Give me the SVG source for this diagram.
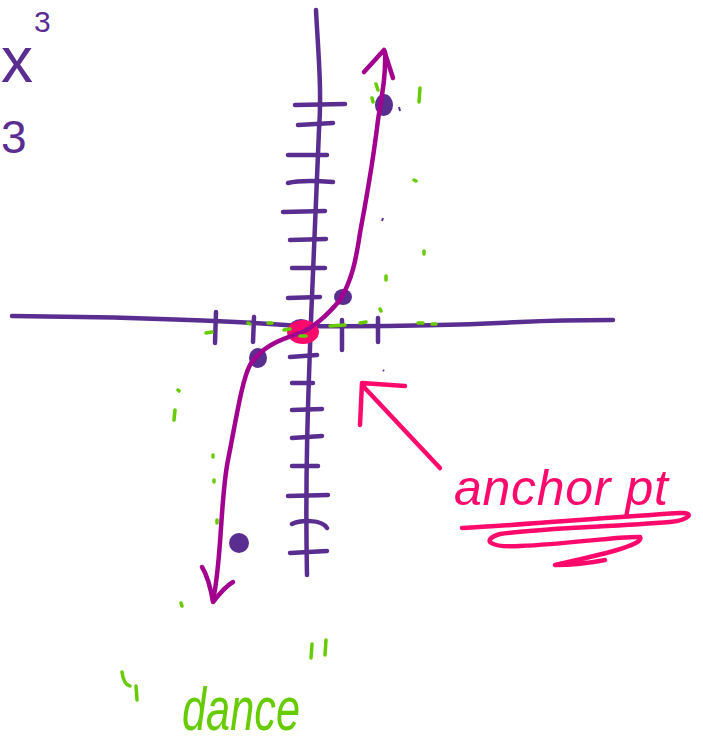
<svg xmlns="http://www.w3.org/2000/svg" width="703" height="748" viewBox="0 0 703 748">
<style>
.ax{fill:none;stroke:#5a2d91;stroke-width:4.5;stroke-linecap:round;stroke-linejoin:round}
.cv{fill:none;stroke:#a2008e;stroke-width:4.5;stroke-linecap:round;stroke-linejoin:round}
.pk{fill:none;stroke:#ff0a6c;stroke-width:4.5;stroke-linecap:round;stroke-linejoin:round}
.gr{fill:none;stroke:#66cc00;stroke-width:3.5;stroke-linecap:round}
.dot{fill:#5a2d91}
.hw{font-family:"Liberation Sans","DejaVu Sans",sans-serif}
</style>
<rect width="703" height="748" fill="#ffffff"/>
<g id="title">
<text x="1" y="82" class="hw" font-size="64" fill="#5a2d91">x</text>
<text x="34" y="32" class="hw" font-size="30" fill="#5a2d91">3</text>
<text x="1" y="153" class="hw" font-size="46" fill="#5a2d91">3</text>
</g>
<g id="axes">
<path class="ax" d="M316,10 C318,50 322,90 319,130 C316,200 314,260 311,320 C308,400 305,480 307,575"/>
<path class="ax" d="M12,316 C120,317 220,320 300,326 C380,327 440,326 520,322 C560,320 590,320 613,320"/>
<path class="ax" d="M295,105 L345,104 M298,125 L333,123 M288,155 L327,155 M288,183 C300,180 320,181 333,182 M283,212 L325,211 M290,240 L326,239 M292,268 L325,268 M288,298 L320,297"/>
<path class="ax" d="M290,357 L317,355 M292,383 L313,383 M292,410 L322,409 M292,438 L322,436 M292,466 L318,466 M288,496 L328,495 M292,524 C300,520 322,519 327,528 M290,553 L327,551"/>
<path class="ax" d="M216,312 L215,343 M254,317 L253,342 M342,320 L342,350 M378,318 L378,342"/>
</g>
<g id="origin">
<ellipse cx="301" cy="328" rx="12" ry="9" class="dot"/>
<ellipse cx="303" cy="332" rx="16" ry="12" fill="#ff0a6c"/>
</g>
<g id="points">
<ellipse cx="258" cy="358" rx="9" ry="10" class="dot"/>
<ellipse cx="239" cy="543" rx="10" ry="10" class="dot"/>
<ellipse cx="343" cy="297" rx="9" ry="8" class="dot"/>
<ellipse cx="384" cy="105" rx="9" ry="11" class="dot"/>
</g>
<g id="curve">
<path class="cv" d="M213,600 C222,560 220,500 228,460 C236,420 242,380 250,365 C262,345 285,338 300,333 C315,327 330,312 340,300 C352,280 356,260 360,233 C366,200 372,170 378,120 C382,95 386,75 385,52"/>
<path class="cv" d="M364,72 L384,50 L393,78"/>
<path class="cv" d="M202,567 C207,575 211,590 213,602 C220,593 226,586 233,582"/>
</g>
<g id="anchor">
<path class="pk" d="M440,468 L362,385 M405,386 L362,383 L360,425"/>
<text x="454" y="505" class="hw" font-size="50" font-style="italic" fill="#ff0a6c" textLength="214">anchor pt</text>
<path class="pk" d="M462,528 C520,525 600,518 680,513 C695,512 690,520 670,522 C610,527 540,528 500,534 C480,540 490,548 520,546 C570,544 620,536 640,537 C645,545 600,555 555,565 C575,565 595,562 605,560"/>
</g>
<g id="dance">
<text x="182" y="730" class="hw" font-size="62" font-style="italic" fill="#66cc00" textLength="118" lengthAdjust="spacingAndGlyphs">dance</text>
<path class="gr" d="M122,672 C123,680 125,685 130,686 M136,686 L137,700 M312,644 L311,658 M326,640 L325,655"/>
</g>
<g id="specks">
<path class="gr" d="M420,88 L419,102 M414,180 L416,181 M424,251 L424,254 M386,276 L386,280 M372,98 L373,102 M376,84 L378,90 M380,309 L381,311 M360,323 L366,322 M418,323 L423,323 M432,324 L436,324 M206,333 L212,332 M178,390 L179,391 M175,410 L174,420 M213,455 L213,457 M214,480 L214,482 M217,520 L217,523 M181,603 L182,606 M268,323 L272,323 M248,323 L250,324 M284,330 L290,329 M330,326 L345,325 M300,336 L306,336"/>
<path d="M383,218 L382,221 M383,370 L384,371 M399,107 L400,111" stroke="#5a2d91" stroke-width="2" fill="none"/>
</g>
</svg>
